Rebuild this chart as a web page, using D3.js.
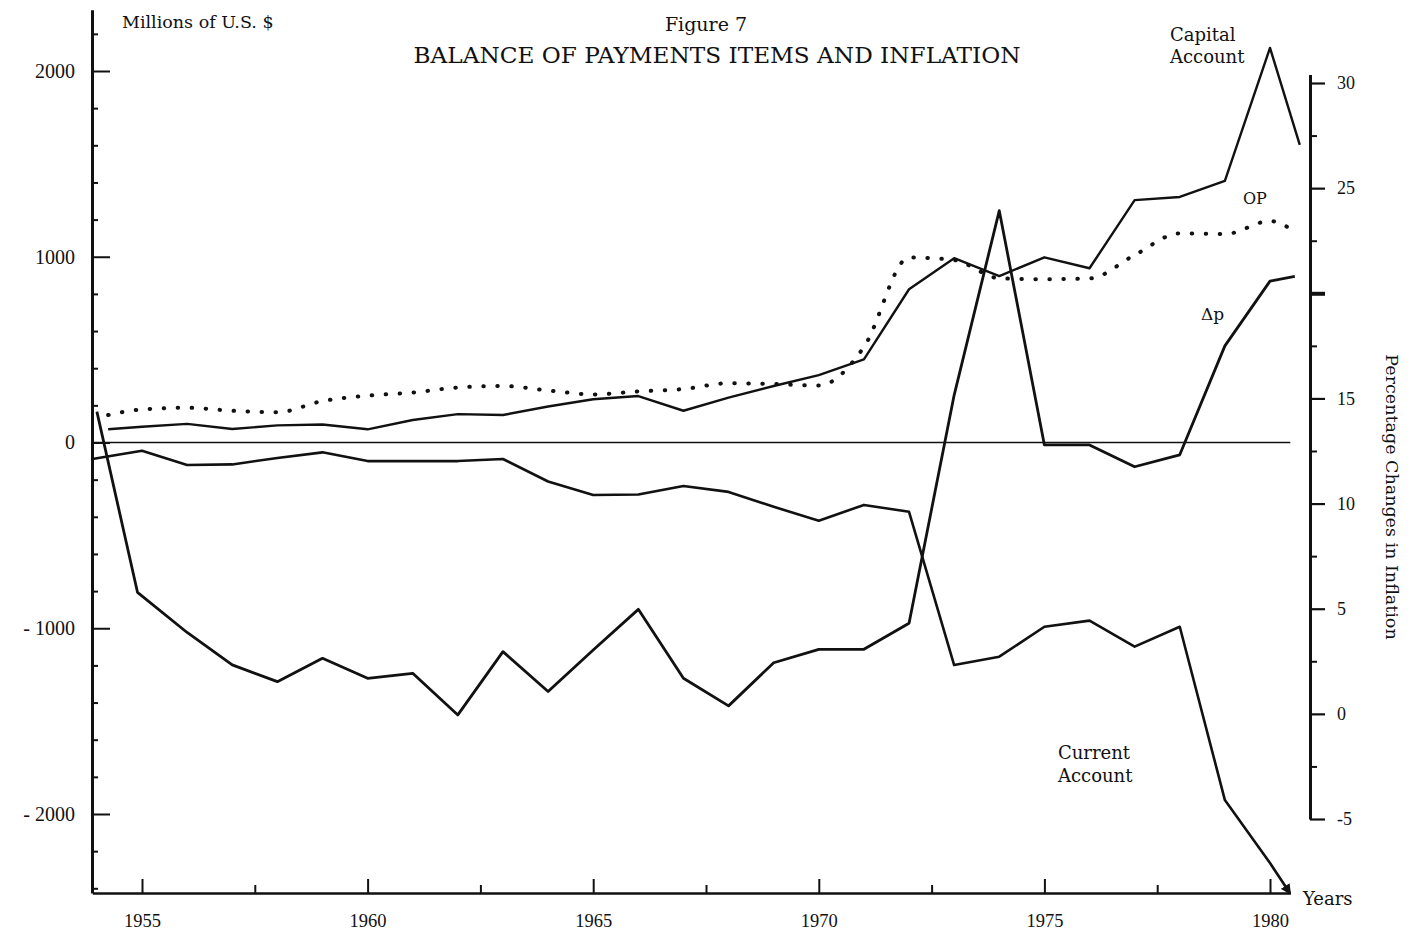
<!DOCTYPE html>
<html><head><meta charset="utf-8">
<script src="https://cdn.jsdelivr.net/npm/d3@7"></script>
<style>
html,body{margin:0;padding:0;background:#fff;}
svg{display:block;background:#fff;}
</style></head><body>
<svg id="chart" width="1410" height="937"></svg>
<script>
// ---------------- data ----------------
// Capital Account, millions of US$ (left axis)
const capYears = [1954.25,1955,1956,1957,1958,1959,1960,1961,1962,1963,1964,1965,1966,1967,1968,1969,1970,1971,1972,1973,1974,1975,1976,1977,1978,1979,1980,1980.66];
const capitalAccount = [71,85,100,73,92,97,71,121,153,148,194,233,250,171,242,304,363,448,825,992,896,997,938,1305,1322,1408,2124,1602];
// Current Account, millions of US$ (left axis)
const curYears = [1953.9,1955,1956,1957,1958,1959,1960,1961,1962,1963,1964,1965,1966,1967,1968,1969,1970,1971,1972,1973,1974,1975,1976,1977,1978,1979,1980,1980.44];
const currentAccount = [-89,-44,-121,-118,-83,-53,-100,-100,-100,-89,-210,-283,-280,-234,-266,-346,-421,-336,-373,-1198,-1153,-992,-959,-1099,-992,-1925,-2264,-2425];
// OP (dotted), left axis
const opYears = [1954.25,1955,1956,1957,1958,1959,1960,1961,1962,1963,1964,1965,1966,1967,1968,1969,1970,1971,1972,1973,1974,1975,1976,1977,1978,1979,1980,1980.5];
const opValues = [148,178,187,171,163,223,252,269,296,304,280,259,275,288,319,315,307,514,996,982,884,879,883,1009,1126,1122,1192,1144];
// Δp, percentage change (right axis)
const dpYears = [1954,1954.9,1956,1957,1958,1959,1960,1961,1962,1963,1964,1965,1966,1967,1968,1969,1970,1971,1972,1973,1974,1975,1976,1977,1978,1979,1980,1980.55];
const deltaP = [14.37,5.78,3.87,2.33,1.53,2.64,1.69,1.93,-0.05,2.96,1.06,3.04,4.97,1.69,0.38,2.43,3.07,3.07,4.31,15.16,23.93,12.79,12.79,11.75,12.32,17.5,20.58,20.8];
// zero reference line
const zeroYears = [1953.9, 1980.45];
const zeroValues = [0, 0];

// ticks
const leftMajorTicks = [-2000,-1000,0,1000,2000];
const leftMinorTicks = [-2400,-2200,-1800,-1600,-1400,-1200,-800,-600,-400,-200,200,400,600,800,1200,1400,1600,1800,2200];
const rightMajorTicks = [-5,0,5,10,15,20,25,30];
const rightLabelled = [-5,0,5,10,15,25,30];
const rightMinorTicks = [-2.5,2.5,7.5,12.5,17.5,22.5,27.5];
const yearMajorTicks = [1955,1960,1965,1970,1975,1980];
const yearMinorTicks = [1957.5,1962.5,1967.5,1972.5,1977.5];

// ---------------- scales ----------------
const svg = d3.select("#chart");
const x = d3.scaleLinear().domain([1955,1980]).range([142,1270]);
const yL = d3.scaleLinear().domain([-2000,2000]).range([814,71]);
const yR = d3.scaleLinear().domain([-5,30]).range([819,83]);

const xAxisScale = x.copy().domain([1953.9,1980.45]).range([x(1953.9), x(1980.45)]);
const yLAxisScale = yL.copy().domain([-2425,2330]).range([yL(-2425), yL(2330)]);
const yRAxisScale = yR.copy().domain([-5,30.4]).range([yR(-5), yR(30.4)]);

const serif = "'Liberation Serif', 'DejaVu Serif', serif";
const serif2 = "'DejaVu Serif', 'Liberation Serif', serif";

function styleAxis(g, domainW, tickW, font, size){
  g.select(".domain").attr("stroke","#111").attr("stroke-width",domainW);
  g.selectAll(".tick line").attr("stroke","#111").attr("stroke-width",tickW);
  g.selectAll(".tick text").attr("fill","#111").attr("font-family",font).attr("font-size",size);
}

// left axis
const gL = svg.append("g").attr("transform","translate(92,0)");
gL.call(d3.axisLeft(yLAxisScale).tickValues(leftMajorTicks).tickSize(-18).tickSizeOuter(0).tickPadding(17)
  .tickFormat(v => v < 0 ? "- " + Math.abs(v) : String(v)));
styleAxis(gL, 3, 2, serif, 20);
const gLm = svg.append("g").attr("transform","translate(92,0)");
gLm.call(d3.axisLeft(yLAxisScale).tickValues(leftMinorTicks).tickSize(-6).tickSizeOuter(0).tickFormat(""));
gLm.select(".domain").remove();
styleAxis(gLm, 0, 2, serif, 0);

// right axis
const gR = svg.append("g").attr("transform","translate(1310,0)");
gR.call(d3.axisRight(yRAxisScale).tickValues(rightMajorTicks).tickSize(15).tickSizeOuter(0).tickPadding(12)
  .tickFormat(v => rightLabelled.includes(v) ? String(v) : ""));
styleAxis(gR, 3, 2.2, serif, 18);
gR.selectAll(".tick").filter(v => v === 20).select("line").attr("stroke-width", 4);
const gRm = svg.append("g").attr("transform","translate(1310,0)");
gRm.call(d3.axisRight(yRAxisScale).tickValues(rightMinorTicks).tickSize(7).tickSizeOuter(0).tickFormat(""));
gRm.select(".domain").remove();
styleAxis(gRm, 0, 2, serif, 0);

// bottom axis
const gB = svg.append("g").attr("transform","translate(0,893)");
gB.call(d3.axisBottom(xAxisScale).tickValues(yearMajorTicks).tickSize(-14).tickSizeOuter(0).tickPadding(21)
  .tickFormat(d3.format("d")));
styleAxis(gB, 2.6, 2, serif, 18.5);
const gBm = svg.append("g").attr("transform","translate(0,893)");
gBm.call(d3.axisBottom(xAxisScale).tickValues(yearMinorTicks).tickSize(-8).tickSizeOuter(0).tickFormat(""));
gBm.select(".domain").remove();
styleAxis(gBm, 0, 2, serif, 0);

// ---------------- lines ----------------
const lineL = d3.line().x(d => x(d[0])).y(d => yL(d[1]));
const lineR = d3.line().x(d => x(d[0])).y(d => yR(d[1]));
const lineOP = d3.line().x(d => x(d[0])).y(d => yL(d[1])).curve(d3.curveMonotoneX);

svg.append("defs").append("marker")
  .attr("id","arrow").attr("viewBox","0 0 10 10").attr("refX",8).attr("refY",5)
  .attr("markerWidth",4).attr("markerHeight",4).attr("orient","auto")
  .append("path").attr("d","M0,0L10,5L0,10z").attr("fill","#111");

svg.append("path").datum(d3.zip(zeroYears, zeroValues))
  .attr("d", lineL).attr("fill","none").attr("stroke","#111").attr("stroke-width",1.7);

svg.append("path").datum(d3.zip(opYears, opValues))
  .attr("d", lineOP).attr("fill","none").attr("stroke","#111").attr("stroke-width",4)
  .attr("stroke-linecap","round").attr("stroke-dasharray","0.5 13.5");

svg.append("path").datum(d3.zip(capYears, capitalAccount))
  .attr("d", lineL).attr("fill","none").attr("stroke","#111").attr("stroke-width",2.4)
  .attr("stroke-linejoin","round");

svg.append("path").datum(d3.zip(curYears, currentAccount))
  .attr("d", lineL).attr("fill","none").attr("stroke","#111").attr("stroke-width",2.6)
  .attr("stroke-linejoin","round").attr("marker-end","url(#arrow)");

svg.append("path").datum(d3.zip(dpYears, deltaP))
  .attr("d", lineR).attr("fill","none").attr("stroke","#111").attr("stroke-width",2.8)
  .attr("stroke-linejoin","round");

// ---------------- texts ----------------
function txt(s, px, py, size, anchor, font){
  return svg.append("text").attr("x",px).attr("y",py).attr("font-size",size)
    .attr("font-family", font || serif2).attr("fill","#111")
    .attr("text-anchor", anchor || "start").text(s);
}
txt("Millions of U.S. $", 122, 28, 17.5);
txt("Figure 7", 706, 31, 19, "middle");
txt("BALANCE OF PAYMENTS ITEMS AND INFLATION", 717, 63, 23.2, "middle");
txt("Capital", 1170, 41, 18);
txt("Account", 1170, 63, 18);
txt("OP", 1243, 204, 16);
txt("Δp", 1201, 320, 17);
txt("Current", 1058, 759, 18);
txt("Account", 1058, 782, 18);
txt("Years", 1303, 905, 18);
svg.append("text").attr("transform","translate(1386,497) rotate(90)")
  .attr("text-anchor","middle").attr("font-size",17.5).attr("font-family",serif2)
  .attr("fill","#111").text("Percentage Changes in Inflation");
</script>
</body></html>
